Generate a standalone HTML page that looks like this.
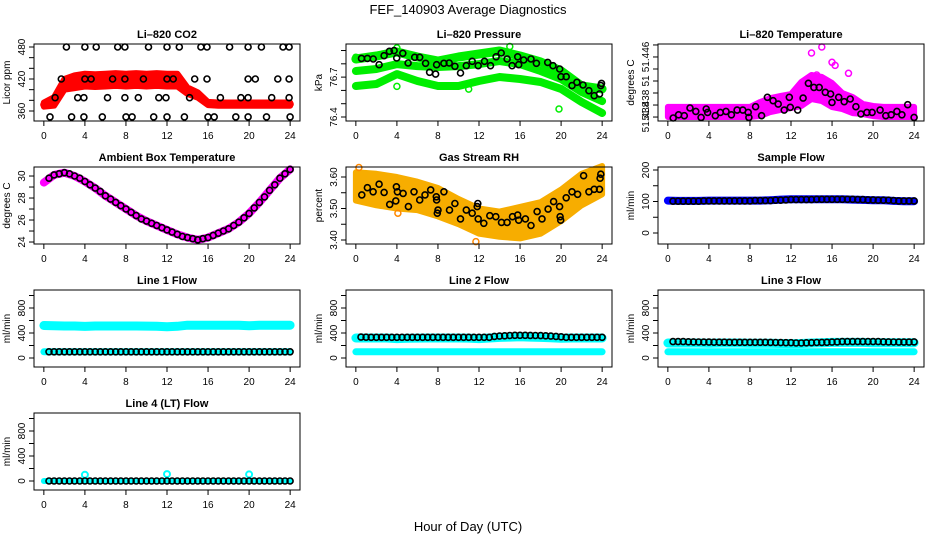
<!DOCTYPE html>
<html><head><meta charset="utf-8"><title>FEF_140903 Average Diagnostics</title>
<style>
html,body{margin:0;padding:0;background:#fff;}
svg{display:block;font-family:"Liberation Sans",Arial,sans-serif;}
</style></head>
<body>
<svg id="chart" width="936" height="540" viewBox="0 0 936 540" xmlns="http://www.w3.org/2000/svg">
<rect x="0" y="0" width="936" height="540" fill="#fff"/>
<text x="468" y="14" font-size="13" text-anchor="middle">FEF_140903  Average Diagnostics</text>
<text x="468" y="531" font-size="13" text-anchor="middle">Hour of Day (UTC)</text>
</svg>
<script>
// ---------- DATA ----------
const hours25 = [0,1,2,3,4,5,6,7,8,9,10,11,12,13,14,15,16,17,18,19,20,21,22,23,24];
const hours13 = [0,2,4,6,8,10,12,14,16,18,20,22,24];
const halfHours = [0.5,1,1.5,2,2.5,3,3.5,4,4.5,5,5.5,6,6.5,7,7.5,8,8.5,9,9.5,10,10.5,11,11.5,12,12.5,13,13.5,14,14.5,15,15.5,16,16.5,17,17.5,18,18.5,19,19.5,20,20.5,21,21.5,22,22.5,23,23.5,24];

// CO2
const co2RedMid = [372,378,410,415,418,417,418,419,418,419,418,419,418,418,398,390,374,373,373,373,373,373,373,373,373];
const co2RedHalf = [4,8,10,12,12,12,12,12,12,12,12,12,12,12,6,5,3,3,3,3,3,3,3,3,3];
const co2BlackHours = [2.2,4.0,5.1,7.2,7.9,10.2,12,13.2,15.3,15.9,18.1,19.9,21.2,23.3,23.9,
  1.7,4,4.6,6.7,7.9,9.7,12,12.6,14.7,15.9,19.9,20.6,22.8,23.9,
  1.1,3.3,3.9,6.2,7.9,9.2,11.2,11.9,14.2,17.2,19.2,19.9,22.2,23.9,
  0.6,2.7,3.9,5.7,8,8.6,10.7,12,13.7,16,16.6,18.7,19.9,21.7,24];
const co2BlackVals = [480,480,480,480,480,480,480,480,480,480,480,480,480,480,480,
  420,420,420,420,420,420,420,420,420,420,420,420,420,420,
  385,385,385,385,385,385,385,385,385,385,385,385,385,385,
  349,349,349,349,349,349,349,349,349,349,349,349,349,349,349];

// Pressure
const presTop = [76.836,76.859,76.889,76.851,76.821,76.851,76.874,76.896,76.859,76.814,76.746,76.633,76.611];
const presMid = [76.746,76.761,76.798,76.783,76.776,76.783,76.798,76.821,76.798,76.746,76.686,76.588,76.520];
const presBot = [76.633,76.648,76.723,76.671,76.633,76.633,76.671,76.701,76.686,76.663,76.611,76.513,76.430];
const presBlackHours = [0.55,1.13,1.69,2.27,2.75,3.27,3.73,3.98,4.57,5.09,5.73,6.22,6.8,7.19,7.77,7.87,8.58,9.1,9.65,10.2,10.76,11.34,11.92,12.54,13.12,13.67,14.16,14.74,15.23,15.77,15.87,16.36,17.07,17.59,18.69,19.21,19.86,19.99,20.5,21.06,21.54,22.13,22.71,23.23,23.74,23.87,23.94];
const presBlackVals = [76.841,76.841,76.836,76.793,76.861,76.894,76.899,76.844,76.879,76.806,76.849,76.849,76.804,76.736,76.723,76.793,76.804,76.806,76.781,76.731,76.786,76.819,76.786,76.819,76.786,76.853,76.881,76.836,76.786,76.853,76.793,76.829,76.836,76.804,76.811,76.786,76.761,76.703,76.703,76.636,76.661,76.641,76.598,76.560,76.573,76.636,76.653];
const presOutHours = [0, 4, 4, 15, 19.8, 11];
const presOutVals = [76.85, 76.92, 76.63, 76.93, 76.46, 76.61];

// Li-820 temperature
const tempMid = [51.43842,51.43842,51.43842,51.43842,51.43842,51.43842,51.43842,51.43842,51.43842,51.43867,51.439,51.43917,51.43933,51.43992,51.4405,51.44033,51.43983,51.43933,51.439,51.43867,51.4385,51.43842,51.43842,51.43842,51.43842];
const tempHalf = [0.00042,0.00042,0.00042,0.00042,0.00042,0.00042,0.00042,0.00042,0.00042,0.00058,0.00058,0.00058,0.00058,0.001,0.001,0.001,0.001,0.00067,0.00067,0.00042,0.00042,0.00042,0.00042,0.00042,0.00042];
const tempOutHours = [15,14,16,17.6,14.5,13.3,16.3];
const tempOutVals = [51.44383,51.44333,51.44256,51.44164,51.4415,51.4409,51.4423];
const tempBlackHours = [0.52,1.05,1.6,2.16,2.72,3.24,3.74,3.87,4.62,5.11,5.67,6.19,6.75,7.3,7.83,7.9,8.55,9.14,9.7,10.26,10.75,11.34,11.83,11.93,12.65,13.18,13.7,14.23,14.75,15.34,15.86,16,16.65,17.18,17.77,18.32,18.81,19.4,19.9,20.68,21.24,21.76,22.32,22.81,23.37,24];
const tempBlackVals = [51.43792,51.43819,51.43811,51.43875,51.43847,51.43797,51.43867,51.43839,51.43811,51.43839,51.43847,51.43819,51.43858,51.43858,51.43839,51.43797,51.43886,51.43811,51.43964,51.43936,51.43908,51.43858,51.43964,51.43881,51.43858,51.43958,51.44081,51.44047,51.44047,51.44006,51.43992,51.43922,51.43964,51.43928,51.4395,51.43886,51.43825,51.43839,51.43839,51.43858,51.43811,51.43819,51.43847,51.43819,51.43903,51.43797];

// Ambient box temperature
const ambMagenta = [29.4,30.1,30.3,30.0,29.5,28.9,28.2,27.6,27.0,26.4,25.9,25.5,25.1,24.7,24.4,24.2,24.4,24.8,25.2,25.8,26.6,27.6,28.7,29.8,30.6];
const ambBlack = [29.8,30.1,30.2,30.3,30.2,30.0,29.8,29.5,29.2,28.9,28.6,28.2,27.9,27.6,27.3,27.0,26.7,26.4,26.1,25.9,25.7,25.5,25.3,25.1,24.9,24.7,24.5,24.4,24.3,24.2,24.3,24.4,24.6,24.8,25.0,25.2,25.5,25.8,26.2,26.6,27.1,27.6,28.1,28.7,29.2,29.8,30.2,30.6];

// Gas stream RH
const rhMid = [3.57,3.56,3.55,3.54,3.52,3.49,3.46,3.45,3.455,3.47,3.51,3.56,3.59];
const rhHalf = [0.045,0.05,0.05,0.045,0.045,0.04,0.04,0.04,0.05,0.05,0.05,0.05,0.045];
const rhBlackHours = [0.58,1.13,1.68,2.27,2.75,3.3,3.89,3.95,4.05,4.6,5.12,5.67,6.22,6.74,7.29,7.84,7.87,7.94,8.0,8.58,9.13,9.65,10.2,10.76,11.34,11.82,11.88,11.92,12.47,13.05,13.64,14.19,14.74,15.26,15.77,15.87,16.52,17.07,17.66,18.14,18.73,19.27,19.85,19.9,19.96,20.5,21.06,21.61,22.19,22.71,23.23,23.74,23.8,23.87];
const rhBlackVals = [3.543,3.566,3.553,3.577,3.551,3.513,3.524,3.569,3.553,3.548,3.506,3.553,3.527,3.543,3.559,3.537,3.527,3.485,3.495,3.553,3.495,3.516,3.467,3.495,3.485,3.506,3.516,3.467,3.453,3.477,3.474,3.456,3.456,3.474,3.479,3.463,3.467,3.446,3.49,3.467,3.498,3.522,3.506,3.474,3.463,3.534,3.553,3.545,3.604,3.553,3.561,3.561,3.596,3.609];
const rhOutHours = [0.3,11.7,4.1];
const rhOutVals = [3.63,3.395,3.485];

// Sample flow
const sampleBlue = [103,102,102,102,103,103,103,103,103,103,104,106,107,107,107,107,107,107,106,105,104,104,102,101,101];
const sampleBlack = [101,101,101,101,101,101,102,102,102,102,102,102,102,102,102,102,103,103,103,103,104,104,105,106,106,106,106,106,107,107,107,107,107,107,107,107,106,106,105,105,104,104,104,103,102,102,102,102];

// Line flows
const line1Cyan = [520,515,512,512,505,512,512,512,512,512,510,508,500,508,525,525,525,525,525,525,515,525,525,525,525];
const line1CyanLow = [100,100,100,100,100,100,100,100,100,100,100,100,100,100,100,100,100,100,100,100,100,100,100,100,100];
const line1Black = [100,100,100,100,100,100,100,100,100,100,100,100,100,100,100,100,100,100,100,100,100,100,100,100,100,100,100,100,100,100,100,100,100,100,100,100,100,100,100,100,100,100,100,100,100,100,100,100];
const line2Cyan = [320,320,320,320,310,315,318,320,320,320,320,318,310,320,330,335,340,335,330,325,315,320,320,320,320];
const line2CyanLow = [100,100,100,100,100,100,100,100,100,100,100,100,100,100,100,100,100,100,100,100,100,100,100,100,100];
const line2Black = [335,333,331,331,331,331,331,331,331,331,331,331,331,331,331,331,331,331,331,331,331,331,331,331,331,331,345,350,355,360,363,363,363,362,360,358,355,350,345,340,331,331,331,331,331,331,331,331];
const line3Cyan = [240,240,240,240,235,240,240,240,235,235,235,232,230,232,240,245,250,250,250,250,245,245,245,245,245];
const line3CyanLow = [100,100,100,100,100,100,100,100,100,100,100,100,100,100,100,100,100,100,100,100,100,100,100,100,100];
const line3Black = [262,262,262,260,258,256,255,255,253,253,253,252,252,252,252,252,252,252,252,250,248,247,245,245,240,240,243,245,248,250,252,255,258,262,262,262,262,262,262,262,262,260,258,256,255,255,255,258];
const line4Cyan = [0,0,0,0,0,0,0,0,0,0,0,0,0,0,0,0,0,0,0,0,0,0,0,0,0];
const line4CyanOutHours = [4,12,20];
const line4CyanOutVals = [100,110,105];
const line4Black = [0,0,0,0,0,0,0,0,0,0,0,0,0,0,0,0,0,0,0,0,0,0,0,0,0,0,0,0,0,0,0,0,0,0,0,0,0,0,0,0,0,0,0,0,0,0,0,0];

const xTicks = [0,4,8,12,16,20,24];

// ---------- DRAWING ----------
const NS = 'http://www.w3.org/2000/svg';
const svg = document.getElementById('chart');
const colLeft = [34,346,658];
const rowTop = [44,167,290,413];
const BW = 266, BH = 77;

function el(tag, attrs, parent){
  const e = document.createElementNS(NS, tag);
  for (const k in attrs) e.setAttribute(k, attrs[k]);
  (parent||svg).appendChild(e);
  return e;
}

function panel(name, col, row, title, ylab, ylim, yTicks, yLabels){
  const L = colLeft[col], T = rowTop[row], B = T + BH;
  const g = el('g', {});
  
  
  const X = h => L + (h + 0.96) / 25.92 * BW;
  const Y = v => B - (v - ylim[0]) / (ylim[1] - ylim[0]) * BH;
  const marks = el('g', {}, g);
  
  
  // frame
  const fr = el('rect', {x:L, y:T, width:BW, height:BH, fill:'none', stroke:'#000', 'stroke-width':1}, g);
  
  
  // title
  const tt = el('text', {x:L + BW/2, y:T - 6, 'font-size':11, 'font-weight':'bold', 'text-anchor':'middle'}, g);
  tt.textContent = title;
  
  
  // x axis
  const xa = el('g', {}, g);
  
  
  el('line', {x1:X(xTicks[0]), x2:X(xTicks[xTicks.length-1]), y1:B, y2:B, stroke:'#000'}, xa);
  xTicks.forEach(t => {
    el('line', {x1:X(t), x2:X(t), y1:B, y2:B+5, stroke:'#000'}, xa);
    const tx = el('text', {x:X(t), y:B+18, 'font-size':10, 'text-anchor':'middle'}, xa);
    tx.textContent = String(t);
    
    
  });
  // y axis
  const ya = el('g', {}, g);
  
  
  el('line', {x1:L, x2:L, y1:Y(yTicks[0]), y2:Y(yTicks[yTicks.length-1]), stroke:'#000'}, ya);
  yTicks.forEach((t, i) => {
    el('line', {x1:L-5, x2:L, y1:Y(t), y2:Y(t), stroke:'#000'}, ya);
    if (yLabels[i]) {
      const tx = el('text', {x:L-9, y:Y(t), 'font-size':10, 'text-anchor':'middle', transform:'rotate(-90 ' + (L-9) + ' ' + Y(t) + ')'}, ya);
      tx.textContent = yLabels[i];
      
      
    }
  });
  const yl = el('text', {x:L-24, y:T + BH/2, 'font-size':10, 'text-anchor':'middle', transform:'rotate(-90 ' + (L-24) + ' ' + (T+BH/2) + ')'}, ya);
  yl.textContent = ylab;
  
  
  return {g: marks, X, Y};
}

function circles(p, hs, vs, color, r, sw, name){
  const g = el('g', {}, p.g);
  
  
  for (let i = 0; i < vs.length; i++) {
    const c = el('circle', {cx:p.X(hs[i]).toFixed(1), cy:p.Y(vs[i]).toFixed(1), r:r, fill:'none', stroke:color, 'stroke-width':sw}, g);
    
    
  }
}
function band(p, hs, mid, half, color, name){
  let up = [], dn = [];
  for (let i = 0; i < hs.length; i++) {
    up.push(p.X(hs[i]).toFixed(1) + ',' + p.Y(mid[i] + half[i]).toFixed(1));
    dn.unshift(p.X(hs[i]).toFixed(1) + ',' + p.Y(mid[i] - half[i]).toFixed(1));
  }
  const pg = el('polygon', {points: up.concat(dn).join(' '), fill:color, stroke:color, 'stroke-width':6, 'stroke-linejoin':'round'}, p.g);
  
  
}
function thick(p, hs, vs, color, w, name){
  const pts = hs.map((h, i) => p.X(h).toFixed(1) + ',' + p.Y(vs[i]).toFixed(1)).join(' ');
  const pl = el('polyline', {points: pts, fill:'none', stroke:color, 'stroke-width':w, 'stroke-linejoin':'round', 'stroke-linecap':'round'}, p.g);
  
  
}

// Panel 1: CO2
const p1 = panel('li820-co2', 0, 0, 'Li\u2013820 CO2', 'Licor ppm', [341.25, 485.6], [360,380,400,420,440,460,480], ['360','','','420','','','480']);
band(p1, hours25, co2RedMid, co2RedHalf, '#ff0000', 'co2-red-series');
circles(p1, hours25, co2RedMid, '#ff0000', 3, 1.5, 'co2-red-points');
circles(p1, co2BlackHours, co2BlackVals, '#000', 3, 1.6, 'co2-black-series');

// Panel 2: Pressure
const p2 = panel('li820-pressure', 1, 0, 'Li\u2013820 Pressure', 'kPa', [76.370, 76.949], [76.4,76.5,76.6,76.7,76.8,76.9], ['76.4','','','76.7','','']);
thick(p2, hours13, presTop, '#00ee00', 9, 'pressure-green-top');
thick(p2, hours13, presMid, '#00ee00', 8, 'pressure-green-mid');
thick(p2, hours13, presBot, '#00ee00', 8, 'pressure-green-bottom');
circles(p2, presOutHours, presOutVals, '#00ee00', 3, 1.5, 'pressure-green-outliers');
circles(p2, presBlackHours, presBlackVals, '#000', 3, 1.6, 'pressure-black-series');

// Panel 3: Li-820 Temperature
const p3 = panel('li820-temperature', 2, 0, 'Li\u2013820 Temperature', 'degrees C', [51.43767, 51.44408], [51.438,51.439,51.440,51.441,51.442,51.443,51.444], ['51.438','51.438','','51','','51.446','']);
band(p3, hours25, tempMid, tempHalf, '#ff00ff', 'temperature-magenta-series');
circles(p3, tempOutHours, tempOutVals, '#ff00ff', 3, 1.5, 'temperature-magenta-outliers');
circles(p3, tempBlackHours, tempBlackVals, '#000', 3, 1.6, 'temperature-black-series');

// Panel 4: Ambient Box Temperature
const p4 = panel('ambient-box-temperature', 0, 1, 'Ambient Box Temperature', 'degrees C', [23.82, 30.82], [24,25,26,27,28,29,30], ['24','','26','','28','','30']);
thick(p4, hours25, ambMagenta, '#ff00ff', 8, 'ambient-magenta-series');
circles(p4, halfHours, ambBlack, '#000', 3, 1.6, 'ambient-black-series');

// Panel 5: Gas Stream RH
const p5 = panel('gas-stream-rh', 1, 1, 'Gas Stream RH', 'percent', [3.3873, 3.6317], [3.40,3.45,3.50,3.55,3.60], ['3.40','','3.50','','3.60']);
band(p5, hours13, rhMid, rhHalf, '#f7ad00', 'rh-orange-series');
circles(p5, rhOutHours, rhOutVals, '#ff8800', 3, 1.5, 'rh-orange-outliers');
circles(p5, rhBlackHours, rhBlackVals, '#000', 3, 1.6, 'rh-black-series');

// Panel 6: Sample Flow
const p6 = panel('sample-flow', 2, 1, 'Sample Flow', 'ml/min', [-34.9, 209.5], [0,50,100,150,200], ['0','','100','','200']);
thick(p6, hours25, sampleBlue, '#0000ff', 8, 'sample-blue-series');
circles(p6, halfHours, sampleBlack, '#000', 3, 1.6, 'sample-black-series');

const flowTicks = [0,200,400,600,800,1000];
const flowLabels = ['0','','400','','800',''];
const flowLim = [-144, 1088];

// Panel 7: Line 1
const p7 = panel('line-1-flow', 0, 2, 'Line 1 Flow', 'ml/min', flowLim, flowTicks, flowLabels);
thick(p7, hours25, line1Cyan, '#00ffff', 9, 'line1-cyan-high');
thick(p7, hours25, line1CyanLow, '#00ffff', 7, 'line1-cyan-low');
circles(p7, halfHours, line1Black, '#000', 3, 1.6, 'line1-black-series');

// Panel 8: Line 2
const p8 = panel('line-2-flow', 1, 2, 'Line 2 Flow', 'ml/min', flowLim, flowTicks, flowLabels);
thick(p8, hours25, line2Cyan, '#00ffff', 9, 'line2-cyan-high');
thick(p8, hours25, line2CyanLow, '#00ffff', 7, 'line2-cyan-low');
circles(p8, halfHours, line2Black, '#000', 3, 1.6, 'line2-black-series');

// Panel 9: Line 3
const p9 = panel('line-3-flow', 2, 2, 'Line 3 Flow', 'ml/min', flowLim, flowTicks, flowLabels);
thick(p9, hours25, line3Cyan, '#00ffff', 9, 'line3-cyan-high');
thick(p9, hours25, line3CyanLow, '#00ffff', 7, 'line3-cyan-low');
circles(p9, halfHours, line3Black, '#000', 3, 1.6, 'line3-black-series');

// Panel 10: Line 4 (LT)
const p10 = panel('line-4-lt-flow', 0, 3, 'Line 4 (LT) Flow', 'ml/min', flowLim, flowTicks, flowLabels);
thick(p10, hours25, line4Cyan, '#00ffff', 6, 'line4-cyan-series');
circles(p10, line4CyanOutHours, line4CyanOutVals, '#00ffff', 3, 2, 'line4-cyan-outliers');
circles(p10, halfHours, line4Black, '#000', 3, 1.6, 'line4-black-series');
</script>
</body></html>
